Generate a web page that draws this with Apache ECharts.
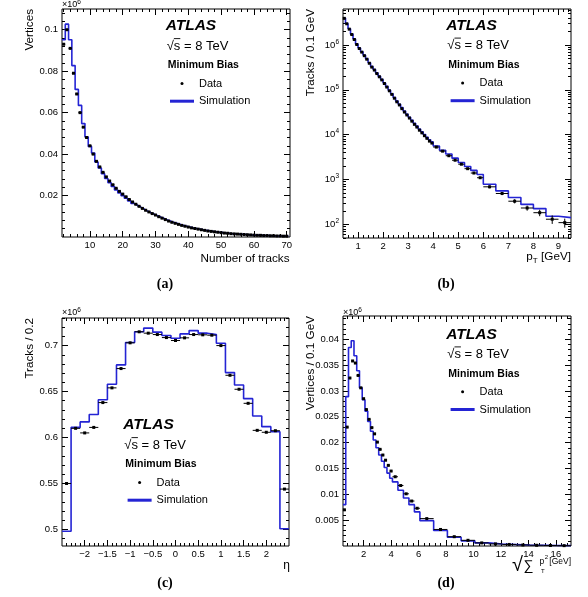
<!DOCTYPE html>
<html><head><meta charset="utf-8">
<script src="https://cdn.jsdelivr.net/npm/echarts@6/dist/echarts.min.js"></script>
<style>html,body{margin:0;padding:0;background:#fff}#c{width:588px;height:597px}</style>
</head><body><div id="c"></div>
<script>
// ---------- (a) Number of tracks (bins of width 1, centres) ----------
const aNtrk = [2,3,4,5,6,7,8,9,10,11,12,13,14,15,16,17,18,19,20,21,22,23,24,25,26,27,28,29,30,31,32,33,34,35,36,37,38,39,40,41,42,43,44,45,46,47,48,49,50,51,52,53,54,55,56,57,58,59,60,61,62,63,64,65,66,67,68,69,70];
const aData = [0.093,0.100,0.091,0.079,0.069,0.060,0.053,0.048,
  0.0440,0.0400,0.0365,0.0338,0.0312,0.0290,0.0270,0.0252,0.0235,0.0220,0.0207,0.0194,0.0181,0.0169,0.0158,0.0148,0.0138,0.0129,0.0121,0.0113,0.0106,
  0.0098,0.0091,0.0084,0.0077,0.0071,0.0066,0.0061,0.0056,0.0052,0.0048,0.0044,0.0041,0.0038,0.0035,0.0032,0.0029,0.0027,0.0025,0.0023,0.0021,
  0.0019,0.0018,0.0016,0.0015,0.0014,0.0013,0.0012,0.0011,0.0010,0.0009,0.0008,0.0008,0.0007,0.0007,0.0006,0.0006,0.0005,0.0005,0.0004,0.0004];
const aSim = [0.0952,0.1027,0.0952,0.0827,0.0712,0.0635,0.0547,0.0483,
  0.0437,0.0405,0.0362,0.0333,0.0305,0.0282,0.0262,0.0244,0.0227,0.0212,0.0199,0.0187,0.0174,0.0162,0.0153,0.0144,0.0135,0.0126,0.0118,0.0111,0.0104,
  0.0097,0.0090,0.0083,0.0077,0.0071,0.0066,0.0061,0.0056,0.0052,0.0048,0.0044,0.0041,0.0038,0.0035,0.0032,0.0030,0.0027,0.0025,0.0023,0.0021,
  0.0019,0.0018,0.0016,0.0015,0.0014,0.0013,0.0012,0.0011,0.0010,0.0009,0.0009,0.0008,0.0007,0.0007,0.0006,0.0006,0.0005,0.0005,0.0004,0.0004];
const aBinWidth = 1;
const aXTicks = [10,20,30,40,50,60,70];
const aYTicks = [0.02,0.04,0.06,0.08,0.1];

// ---------- (b) track pT (variable bins, log scale) ----------
const bEdges = [0.4,0.5,0.6,0.7,0.8,0.9,1.0,1.1,1.2,1.3,1.4,1.5,1.6,1.7,1.8,1.9,2.0,2.1,2.2,2.3,2.4,2.5,2.6,2.7,2.8,2.9,3.0,3.1,3.2,3.3,3.4,3.5,3.6,3.7,3.8,3.9,4.0,
  4.25,4.5,4.75,5.0,5.25,5.5,5.75,6.0,6.5,7.0,7.5,8.0,8.5,9.0,9.5];
const bData = [3900000,2950000,2240000,1700000,1320000,1020000,830000,690000,575000,480000,390000,320000,275000,230000,195000,166000,138000,115000,95000,79000,65000,54000,46000,38000,32000,27500,23500,20000,17000,14800,12600,11000,9500,8300,7200,6500,
  5300,4300,3400,2700,2200,1750,1400,1100,
  690,490,330,233,183,131,110];
const bErr = [0,0,0,0,0,0,0,0,0,0,0,0,0,0,0,0,0,0,0,0,0,0,0,0,0,0,0,0,0,0,0,0,0,0,0,0,
  0,0,0,0,0,0,0,0,
  50,40,35,30,30,28,25];
const bSim = [3950000,3000000,2280000,1740000,1350000,1050000,850000,705000,590000,490000,400000,330000,282000,236000,200000,170000,142000,118000,98000,81500,67500,56000,47500,40000,33500,28500,24500,21000,18000,15500,13300,11600,10100,8800,7700,6900,
  5600,4500,3700,3000,2400,1950,1600,1300,
  790,560,400,280,226,152,142];
const bXTicks = [1,2,3,4,5,6,7,8,9];
const bYTicks = [100,1000,10000,100000,1000000];

// ---------- (c) eta (bins of 0.2, centres) ----------
const cEta = [-2.4,-2.2,-2.0,-1.8,-1.6,-1.4,-1.2,-1.0,-0.8,-0.6,-0.4,-0.2,0,0.2,0.4,0.6,0.8,1.0,1.2,1.4,1.6,1.8,2.0,2.2,2.4];
const cData = [0.550,0.610,0.605,0.611,0.638,0.654,0.675,0.703,0.715,0.7135,0.712,0.7087,0.7055,0.7084,0.712,0.7117,0.7113,0.700,0.6677,0.6525,0.6372,0.6078,0.6057,0.6074,0.5439];
const cSim = [0.498,0.611,0.617,0.625,0.641,0.658,0.679,0.7033,0.715,0.719,0.7146,0.711,0.708,0.7127,0.7163,0.7135,0.712,0.7026,0.6706,0.6572,0.6423,0.6234,0.6118,0.6063,0.5007];
const cBinWidth = 0.2;
const cXTicks = [-2,-1.5,-1,-0.5,0,0.5,1,1.5,2];
const cYTicks = [0.5,0.55,0.6,0.65,0.7];

// ---------- (d) sqrt(sum pT^2) (variable bins) ----------
const dEdges = [0.5,0.7,0.9,1.1,1.3,1.5,1.7,1.9,2.1,2.3,2.5,2.7,2.9,3.1,3.3,3.5,3.7,3.9,4.1,
  4.5,4.9,5.3,5.7,6.1,7.1,8.1,9.1,10.1,11.1,12.1,13.1,14.1,15.1,16.1,17.1];
const dData = [0.0070,0.0230,0.0325,0.0358,0.0354,0.0330,0.0306,0.0285,0.0264,0.0245,0.0229,0.0217,0.0201,0.0187,0.0176,0.0166,0.0156,0.0145,
  0.0134,0.0117,0.0101,0.0087,0.0073,
  0.0053,0.0032,0.0018,0.0011,0.0006,0.0004,0.0003,0.0002,0.00014,0.0001,0.00007];
const dSim = [0.0080,0.0289,0.0384,0.0397,0.0368,0.0339,0.0306,0.0283,0.0261,0.0241,0.0222,0.0205,0.0190,0.0176,0.0164,0.0152,0.0141,0.0131,
  0.0124,0.0108,0.0093,0.0080,0.0066,
  0.0049,0.0030,0.0017,0.0010,0.0006,0.0004,0.0003,0.0002,0.00015,0.0001,0.00008];
const dXTicks = [2,4,6,8,10,12,14,16];
const dYTicks = [0.005,0.01,0.015,0.02,0.025,0.03,0.035,0.04];

// ================= building =================
const BLUE = '#2424d4';
const FONT = "'Liberation Sans', Arial, Helvetica, sans-serif";
const SERIF = "'Liberation Serif', 'Times New Roman', serif";

function edgesFromCentres(c, w) { const e = c.map(v => +(v - w / 2).toFixed(6)); e.push(+(c[c.length - 1] + w / 2).toFixed(6)); return e; }
function stepLine(edges, vals) { const d = vals.map((v, i) => [edges[i], v]); d.push([edges[edges.length - 1], vals[vals.length - 1]]); return d; }
function dataRows(edges, vals, errs) { return vals.map((v, i) => [(edges[i] + edges[i + 1]) / 2, v, (edges[i + 1] - edges[i]) / 2, errs ? errs[i] : 0]); }
function seq(a, b, s) { const o = []; for (let v = a; v <= b + 1e-9; v += s) o.push(+v.toFixed(6)); return o; }
function minus(all, maj) { return all.filter(v => !maj.some(m => Math.abs(m - v) < 1e-9)); }

const aEdges = edgesFromCentres(aNtrk, aBinWidth);
const cEdges = edgesFromCentres(cEta, cBinWidth);

function axes(dim, g, cfg) {
  const pos = dim === 'x' ? ['bottom', 'top'] : ['left', 'right'];
  const base = { type: cfg.type || 'value', gridIndex: g, min: cfg.min, max: cfg.max,
    splitLine: { show: false }, axisLine: { show: false, onZero: false }, minorTick: { show: false } };
  if (cfg.type === 'log') base.logBase = 10;
  const mk = (p, ticks, len, lab) => Object.assign({}, base, {
    position: p,
    axisTick: { show: true, inside: true, length: len, customValues: ticks, lineStyle: { color: '#000', width: 1 } },
    axisLabel: lab ? Object.assign({ show: true, customValues: cfg.majors, color: '#000', fontFamily: FONT, fontSize: 9.5,
      margin: dim === 'x' ? 3 : 4 }, cfg.fmt ? { formatter: cfg.fmt } : {}, cfg.rich ? { rich: cfg.rich } : {}) : { show: false }
  });
  return [mk(pos[0], cfg.majors, 6, true), mk(pos[0], cfg.minors, 3, false), mk(pos[1], cfg.majors, 6, false), mk(pos[1], cfg.minors, 3, false)];
}

const logMinors = [];
[10, 100, 1000, 10000, 100000, 1000000].forEach(p => { for (let k = 2; k <= 9; k++) { const v = k * p; if (v >= 50 && v <= 6300000) logMinors.push(v); } });

const panels = [
  { grid: { left: 62, top: 9, width: 228, height: 228 },
    x: { min: 1.5, max: 71, majors: aXTicks, minors: minus(seq(2, 70, 2), aXTicks) },
    y: { min: 0, max: 0.11, majors: aYTicks, minors: minus(seq(0.004, 0.108, 0.004), aYTicks) },
    line: stepLine(aEdges, aSim), pts: dataRows(aEdges, aData) },
  { grid: { left: 343, top: 9, width: 228, height: 229 },
    x: { min: 0.4, max: 9.5, majors: bXTicks, minors: minus(seq(0.6, 9.4, 0.2), bXTicks) },
    y: { type: 'log', min: 50, max: 6300000, majors: bYTicks, minors: logMinors,
         fmt: v => '10{e|' + Math.round(Math.log10(v)) + '}', rich: { e: { fontSize: 6.5, padding: [0, 0, 6, 0], fontFamily: FONT, color: '#000' } } },
    line: stepLine(bEdges, bSim), pts: dataRows(bEdges, bData, bErr) },
  { grid: { left: 62, top: 318, width: 227, height: 228 },
    x: { min: -2.5, max: 2.5, majors: cXTicks, minors: minus(seq(-2.4, 2.4, 0.1), cXTicks), fmt: v => String(v).replace('-', '\u2212') },
    y: { min: 0.482, max: 0.73, majors: cYTicks, minors: minus(seq(0.49, 0.73, 0.01), cYTicks) },
    line: stepLine(cEdges, cSim), pts: dataRows(cEdges, cData) },
  { grid: { left: 343, top: 316, width: 228, height: 230 },
    x: { min: 0.5, max: 17.1, majors: dXTicks, minors: minus(seq(0.8, 16.8, 0.4), dXTicks) },
    y: { min: 0, max: 0.0445, majors: dYTicks, minors: minus(seq(0.001, 0.044, 0.001), dYTicks) },
    line: stepLine(dEdges, dSim), pts: dataRows(dEdges, dData) }
];

function renderPoint(params, api) {
  const x = api.value(0), y = api.value(1), hw = api.value(2), ey = api.value(3);
  const l = api.coord([x - hw, y]), r = api.coord([x + hw, y]), c = api.coord([x, y]);
  const ch = [{ type: 'line', shape: { x1: l[0], y1: l[1], x2: r[0], y2: r[1] }, style: { stroke: '#000', lineWidth: 1 } }];
  if (ey > 0) {
    const t = api.coord([x, y + ey]), b = api.coord([x, y - ey]);
    ch.push({ type: 'line', shape: { x1: t[0], y1: t[1], x2: b[0], y2: b[1] }, style: { stroke: '#000', lineWidth: 1 } });
  }
  ch.push({ type: 'rect', shape: { x: c[0] - 1.5, y: c[1] - 1.5, width: 3, height: 3 }, style: { fill: '#000' } });
  return { type: 'group', children: ch };
}

const option = { animation: false, grid: [], xAxis: [], yAxis: [], series: [], legend: [], graphic: [] };
panels.forEach((p, g) => {
  option.grid.push(Object.assign({ show: true, borderColor: '#000', borderWidth: 1, backgroundColor: 'transparent' }, p.grid));
  option.xAxis.push(...axes('x', g, p.x));
  option.yAxis.push(...axes('y', g, p.y));
  option.series.push({ name: 'Simulation', type: 'line', xAxisIndex: 4 * g, yAxisIndex: 4 * g, data: p.line, step: 'end',
    symbol: 'none', showSymbol: false, lineStyle: { color: BLUE, width: 1.6 }, itemStyle: { color: BLUE }, z: 2 });
  option.series.push({ name: 'Data', type: 'custom', xAxisIndex: 4 * g, yAxisIndex: 4 * g, data: p.pts,
    encode: { x: 0, y: 1 }, renderItem: renderPoint, itemStyle: { color: '#000' }, z: 3 });
});

// text annotations
function T(x, y, text, o) {
  o = o || {};
  return { type: 'text', x: x, y: y, rotation: o.rot || 0, silent: true, z: 10,
    style: { text: text, fill: '#000', fontFamily: o.family || FONT, fontSize: o.size || 11, fontWeight: o.weight || 'normal',
      fontStyle: o.style || 'normal', align: o.align || 'left', verticalAlign: o.va || 'middle', rich: o.rich } };
}
const anchors = [[165.7, 26], [446.3, 25.5], [123.3, 425], [446.3, 334.3]];
anchors.forEach((a, i) => {
  const [ax, ay] = a;
  option.graphic.push(T(ax, ay, 'ATLAS', { size: 15.5, weight: 'bold', style: 'italic' }));
  option.graphic.push(T(ax + 1, ay + 20, '\u221As = 8 TeV', { size: 13 }));
  option.graphic.push({ type: 'line', silent: true, z: 10, shape: { x1: ax + 8.2, y1: ay + 12.6, x2: ax + 14.6, y2: ay + 12.6 }, style: { stroke: '#000', lineWidth: 0.9 } });
  option.graphic.push(T(ax + 2, ay + 39.5, 'Minimum Bias', { size: 10.5, weight: 'bold' }));
  option.legend.push({ left: ax + 4.3, top: ay + 57.5 - 5.5, padding: 0, orient: 'vertical', itemWidth: 24, itemHeight: 3, itemGap: 6.7, selectedMode: false,
    textStyle: { fontFamily: FONT, fontSize: 11, color: '#000' },
    data: [{ name: 'Data', icon: 'circle' }, { name: 'Simulation', icon: 'rect' }] });
});
// x10^6 exponents
const expRich = { e: { fontSize: 6.5, padding: [0, 0, 5, 0], fontFamily: FONT } };
option.graphic.push(T(62, 5, '\u00D710{e|6}', { size: 9, rich: expRich }));
option.graphic.push(T(62, 313, '\u00D710{e|6}', { size: 9, rich: expRich }));
option.graphic.push(T(343, 312.5, '\u00D710{e|6}', { size: 9, rich: expRich }));
// axis titles
option.graphic.push(T(30, 9, 'Vertices', { size: 11.7, align: 'right', rot: Math.PI / 2 }));
option.graphic.push(T(310.7, 9, 'Tracks / 0.1 GeV', { size: 11.7, align: 'right', rot: Math.PI / 2 }));
option.graphic.push(T(30, 318, 'Tracks / 0.2', { size: 11.7, align: 'right', rot: Math.PI / 2 }));
option.graphic.push(T(310.7, 316, 'Vertices / 0.1 GeV', { size: 11.7, align: 'right', rot: Math.PI / 2 }));
option.graphic.push(T(289.5, 258.3, 'Number of tracks', { size: 11.7, align: 'right' }));
option.graphic.push(T(526.3, 256.5, 'p', { size: 11.7 }));
option.graphic.push(T(532.8, 260.5, 'T', { size: 8 }));
option.graphic.push(T(571, 256.5, '[GeV]', { size: 11.7, align: 'right' }));
option.graphic.push(T(290, 566, '\u03B7', { size: 12, align: 'right' }));
// sqrt(sum pT^2) [GeV]
option.graphic.push(T(512, 565, '\u221A', { size: 20 }));
option.graphic.push(T(523.5, 566, '\u2211', { size: 14 }));
option.graphic.push(T(539.5, 562, 'p', { size: 8.5 }));
option.graphic.push(T(544.8, 557.5, '2', { size: 6 }));
option.graphic.push(T(541, 571, 'T', { size: 6 }));
option.graphic.push(T(571, 562, '[GeV]', { size: 8.5, align: 'right' }));
// captions
[['(a)', 165, 284], ['(b)', 446, 284], ['(c)', 165, 583], ['(d)', 446, 583]].forEach(c =>
  option.graphic.push(T(c[1], c[2], c[0], { size: 14, weight: 'bold', family: SERIF, align: 'center' })));

const chart = echarts.init(document.getElementById('c'), null, { renderer: 'canvas' });
chart.setOption(option);
</script>
</body></html>
